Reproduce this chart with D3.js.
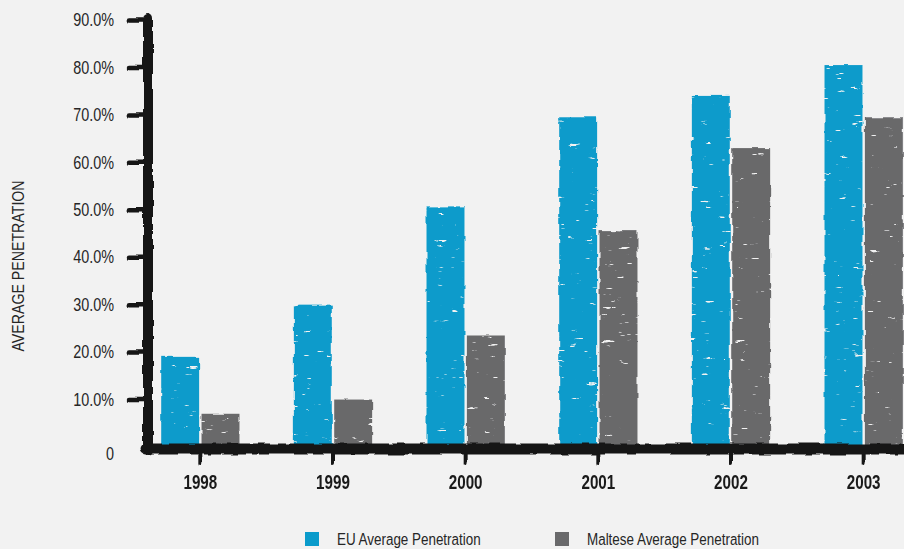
<!DOCTYPE html>
<html lang="en">
<head>
<meta charset="UTF-8">
<title>Average Penetration</title>
<script src="https://cdn.jsdelivr.net/npm/d3@7"></script>
<style>
	body{ margin:0; background:#f2f2f2; }
	svg{ display:block; }
	text{ font-family:"Liberation Sans",Arial,sans-serif; fill:#262626; }
	.tick-label{ font-size:18px; }
	.year{ font-size:19.5px; font-weight:bold; fill:#1a1a1a; }
	.ylab{ font-size:16.5px; }
	.legend{ font-size:17px; }
</style>
</head>
<body>
<svg width="904" height="549"></svg>
<script>
	var years = ["1998","1999","2000","2001","2002","2003"];
	var euValues = [19, 30, 50.5, 69.5, 74, 80.5];
	var malteseValues = [7, 10, 23.5, 45.5, 63, 69.5];
	var yTicks = [0, 10, 20, 30, 40, 50, 60, 70, 80, 90];
	var seriesNames = ["EU Average Penetration", "Maltese Average Penetration"];
	var colors = ["#0a9bcb", "#69696b"];
	var narrow = 0.8;

	var svg = d3.select("svg");

	// sketchy edges + chalky streaks (region large enough for translated groups)
	var defs = svg.append("defs");
	var f = defs.append("filter").attr("id","rough").attr("filterUnits","userSpaceOnUse")
		.attr("x",-300).attr("y",-600).attr("width",1600).attr("height",1800);
	f.append("feTurbulence").attr("type","fractalNoise").attr("baseFrequency","0.08")
		.attr("numOctaves",2).attr("seed",3).attr("result","noise");
	f.append("feDisplacementMap").attr("in","SourceGraphic").attr("in2","noise")
		.attr("scale",3.5).attr("xChannelSelector","R").attr("yChannelSelector","G");

	var fb = defs.append("filter").attr("id","chalk").attr("filterUnits","userSpaceOnUse")
		.attr("x",0).attr("y",0).attr("width",904).attr("height",549);
	fb.append("feTurbulence").attr("type","turbulence").attr("baseFrequency","0.06 0.3")
		.attr("numOctaves",2).attr("seed",7).attr("result","t");
	fb.append("feColorMatrix").attr("in","t").attr("type","matrix")
		.attr("values","0 0 0 0 0  0 0 0 0 0  0 0 0 0 0  9 0 0 0 -4.9").attr("result","holes");
	fb.append("feComposite").attr("in","SourceGraphic").attr("in2","holes")
		.attr("operator","out").attr("result","cut");
	fb.append("feTurbulence").attr("type","fractalNoise").attr("baseFrequency","0.08")
		.attr("numOctaves",2).attr("seed",3).attr("result","noise");
	fb.append("feDisplacementMap").attr("in","cut").attr("in2","noise")
		.attr("scale",3.5).attr("xChannelSelector","R").attr("yChannelSelector","G");

	var x = d3.scaleBand().domain(years).range([134, 930])
		.paddingInner(0.41).paddingOuter(0.205);
	var xSub = d3.scaleBand().domain([0,1]).range([0, x.bandwidth()]).paddingInner(0.06);
	var y = d3.scaleLinear().domain([0, 90]).range([447, 20]);

	var data = years.map(function(yr, i){
		return {year: yr, vals: [euValues[i], malteseValues[i]]};
	});

	// bars
	var groups = svg.append("g").attr("filter","url(#chalk)")
		.selectAll("g").data(data).enter().append("g")
		.attr("transform", function(d){ return "translate(" + x(d.year) + ",0)"; });

	groups.selectAll("rect").data(function(d){ return d.vals; }).enter().append("rect")
		.attr("x", function(d, i){ return xSub(i); })
		.attr("width", xSub.bandwidth())
		.attr("y", function(d){ return y(d); })
		.attr("height", function(d){ return y(0) - y(d); })
		.attr("fill", function(d, i){ return colors[i]; });

	// y axis
	var yAxis = d3.axisLeft(y).tickValues(yTicks).tickSize(20).tickPadding(14)
		.tickFormat(function(d){ return d === 0 ? "0" : d.toFixed(1) + "%"; });
	var gy = svg.append("g").attr("transform","translate(148,0)").call(yAxis);
	gy.select(".domain").remove();
	gy.selectAll(".tick text").attr("class","tick-label").attr("font-size",null).attr("font-family",null)
		.attr("fill",null).attr("x",0)
		.attr("transform","translate(-34,0) scale(" + narrow + ",1)")
		.attr("dy", function(d){ return d === 0 ? "0.72em" : "0.32em"; });
	gy.selectAll(".tick line").attr("stroke","#161616").attr("stroke-width",4.5)
		.attr("stroke-linecap","round").attr("filter","url(#rough)")
		.filter(function(d){ return d === 0; }).remove();
	gy.append("line").attr("x1",0).attr("x2",0).attr("y1",y(90)-2).attr("y2",y(0)+4)
		.attr("stroke","#161616").attr("stroke-width",10).attr("stroke-linecap","round")
		.attr("filter","url(#rough)");

	// x axis
	var xAxis = d3.axisBottom(x).tickSize(14).tickPadding(14);
	var gx = svg.append("g").attr("transform","translate(0," + (y(0) + 2) + ")").call(xAxis);
	gx.select(".domain").remove();
	gx.selectAll(".tick line").attr("stroke","#161616").attr("stroke-width",4)
		.attr("stroke-linecap","round").attr("filter","url(#rough)");
	gx.selectAll(".tick text").attr("class","year").attr("font-size",null).attr("font-family",null)
		.attr("fill",null).attr("y",0).attr("dy",null)
		.attr("transform","translate(0,40) scale(0.78,1)");
	gx.append("line").attr("x1",146).attr("x2",910).attr("y1",0).attr("y2",0)
		.attr("stroke","#161616").attr("stroke-width",11).attr("stroke-linecap","round")
		.attr("filter","url(#rough)");

	// y label
	svg.append("text").attr("class","ylab")
		.attr("transform","translate(24,266) rotate(-90) scale(0.86,1)")
		.attr("text-anchor","middle")
		.text("AVERAGE PENETRATION");

	// legend
	var legendX = [305, 555];
	var lg = svg.append("g").selectAll("g").data(seriesNames).enter().append("g")
		.attr("transform", function(d, i){ return "translate(" + legendX[i] + ",532)"; });
	lg.append("rect").attr("width",14).attr("height",14)
		.attr("fill", function(d, i){ return colors[i]; });
	lg.append("text").attr("class","legend")
		.attr("transform","translate(32,13) scale(0.79,1)").text(function(d){ return d; });
</script>
</body>
</html>
